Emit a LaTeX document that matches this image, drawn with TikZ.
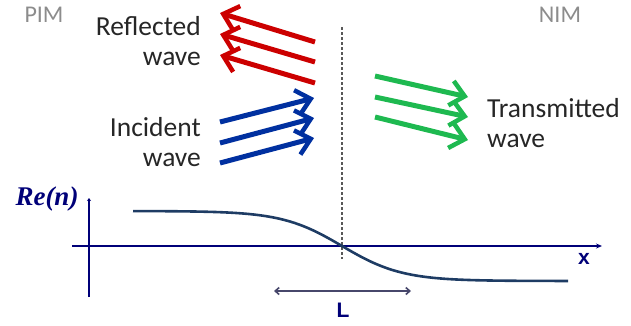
\documentclass[tikz,border=0pt]{standalone}
\usepackage{fontspec}
\setmainfont{Carlito}
\newfontfamily\rmserif{Liberation Serif}
\newfontfamily\axsans{Liberation Sans}
\usepackage{tikz}
\usetikzlibrary{
    arrows.meta,
    positioning,
    calc
}
\definecolor{waveRed}{RGB}{204,0,0}
\definecolor{waveBlue}{RGB}{0,48,160}
\definecolor{waveGreen}{RGB}{30,185,80}
\definecolor{axNavy}{RGB}{0,0,120}
\definecolor{curveSlate}{RGB}{30,60,100}
\definecolor{medGray}{RGB}{140,140,140}
\tikzset{
  lbl/.style     = {font=\fontsize{27.5}{30}\selectfont, text=black!85,
                    inner sep=0pt},
  medium/.style  = {font=\fontsize{24}{28}\selectfont, text=medGray,
                    inner sep=0pt},
  wave/.style    = {line width=5pt,
                    -{Straight Barb[length=14pt,width=25pt,line width=4.5pt]}},
  axis/.style    = {line width=2.4pt, axNavy},
  axlbl/.style   = {text=axNavy, inner sep=0pt},
  curve/.style   = {line width=2.6pt, curveSlate},
  span/.style    = {line width=1.6pt, gray!80!blue!70!black,
                    {Straight Barb[length=4pt,width=7pt]}-{Straight Barb[length=4pt,width=7pt]}}
}

\begin{document}
\begin{tikzpicture}[x=1pt, y=-1pt]
    \useasboundingbox (0,0) rectangle (631,325);

    % media
    \node[medium] (pim) at (44,15) {PIM};
    \node[medium] (nim) at (560,15) {NIM};

    % labels of the waves
    \node[lbl, anchor=east, align=right] (refl) at (201,41) {Reflected\\wave};
    \node[lbl, anchor=east, align=right] (inc) at (201,142) {Incident\\wave};
    \node[lbl, anchor=west, align=left] (trans) at (487,123) {Transmitted\\wave};

    % interface
    \coordinate (itop) at (342,27);
    \coordinate (ibot) at (342,259);
    \draw[densely dashed, line width=1.5pt, black!65] (itop) -- (ibot);

    % wave arrows
    \foreach \i/\ra/\rb/\ba/\bb/\ga/\gb in {1/42/13/122/98/76/97,
                                          2/62/34/143/118/97/117,
                                          3/83/55/163/138/117/140} {
      \coordinate (r\i) at (315,\ra);  \coordinate (rt\i) at (220,\rb);
      \coordinate (b\i) at (220,\ba);  \coordinate (bt\i) at (314,\bb);
      \coordinate (g\i) at (375,\ga);  \coordinate (gt\i) at (468,\gb);
      \draw[wave, waveRed] (r\i) -- (rt\i);
      \draw[wave, waveBlue] (b\i) -- (bt\i);
      \draw[wave, waveGreen] (g\i) -- (gt\i);
    }

    % axes
    \coordinate (xl) at (72,246);
    \coordinate (xr) at (602,246);
    \coordinate (yb) at (89,297);
    \coordinate (yt) at (89,198);
    \draw[axis, -{Stealth[length=6pt,width=5pt]}] (xl) -- (xr);
    \draw[axis, -{Stealth[length=3pt,width=4pt]}] (yb) -- (yt);
    \node[axlbl, font=\rmserif\bfseries\itshape\fontsize{27}{30}\selectfont]
        (ren) at (47,199) {Re(n)};
    \node[axlbl, font=\axsans\bfseries\fontsize{21}{24}\selectfont]
        (xlab) at (584,259) {x};

    % Re(n) profile
    \draw[curve] plot[domain=133:568, samples=90]
        (\x, {246+35*tanh((\x-342)/60)});

    % width of the transition
    \coordinate (la) at (274,291);
    \coordinate (lb) at (411,291);
    \draw[span] (la) -- (lb);
    \node[axlbl, font=\axsans\bfseries\fontsize{21}{24}\selectfont]
        (lwidth) at (343,310) {L};
\end{tikzpicture}
\end{document}
